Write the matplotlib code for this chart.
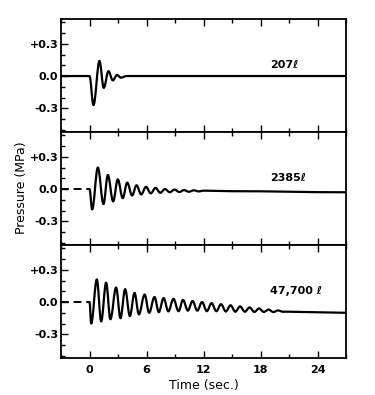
import matplotlib
matplotlib.use("Agg")
import matplotlib.pyplot as plt
from matplotlib.ticker import MultipleLocator
from matplotlib.path import Path
from matplotlib.patches import PathPatch

# peaks / troughs (time in s, pressure in MPa)
t_207 = [-3, 0.0, 0.42, 1.05, 1.5, 2.0, 2.45, 2.9, 3.3, 3.9, 27]
p_207 = [0.0, 0.0, -0.27, 0.14, -0.11, 0.045, -0.04, 0.01, -0.015, 0.0, 0.0]

t_2385 = [0.0, 0.28, 0.88, 1.47, 1.93, 2.49, 2.98, 3.5, 3.97, 4.49, 4.95, 5.44,
          5.95, 6.45, 6.95, 7.45, 7.95, 8.45, 8.95, 9.45, 9.95, 10.45, 11.0,
          11.5, 12.0, 15.0, 27.0]
p_2385 = [0.0, -0.19, 0.20, -0.14, 0.13, -0.115, 0.09, -0.085, 0.06, -0.06, 0.035,
          -0.05, 0.02, -0.04, 0.01, -0.035, 0.0, -0.03, -0.005, -0.028, -0.01,
          -0.025, -0.012, -0.022, -0.015, -0.02, -0.03]

t_47700 = [0.0, 0.18, 0.77, 1.23, 1.75, 2.2, 2.8, 3.26, 3.75, 4.25, 4.74, 5.2,
           5.8, 6.28, 6.84, 7.3, 7.8, 8.3, 8.84, 9.37, 9.85, 10.35, 10.85, 11.35,
           11.85, 12.35, 12.85, 13.35, 13.85, 14.35, 14.85, 15.35, 15.85, 16.35,
           16.85, 17.35, 17.85, 18.35, 18.85, 19.35, 19.85, 20.35, 21.0, 24.0, 27.0]
p_47700 = [0.0, -0.20, 0.21, -0.18, 0.18, -0.16, 0.135, -0.15, 0.12, -0.13, 0.085,
           -0.115, 0.07, -0.10, 0.047, -0.094, 0.037, -0.087, 0.03, -0.085, 0.02,
           -0.08, 0.01, -0.08, 0.0, -0.085, -0.01, -0.085, -0.02, -0.088, -0.03,
           -0.09, -0.04, -0.09, -0.05, -0.092, -0.06, -0.092, -0.07, -0.093,
           -0.078, -0.09, -0.09, -0.095, -0.10]

lead_t = [-3, 0]
lead_p = [0.0, 0.0]

labels = ["207ℓ", "2385ℓ", "47,700 ℓ"]
ytick_vals = [-0.3, 0.0, 0.3]
ytick_txt = ["-0.3", "0.0", "+0.3"]
xtick_vals = [0, 6, 12, 18, 24]


def wave_path(tt, pp):
    # cubic bezier between extrema, flat tangent at each extremum
    verts = [(tt[0], pp[0])]
    codes = [Path.MOVETO]
    for k in range(1, len(tt)):
        dt = tt[k] - tt[k-1]
        verts += [(tt[k-1] + dt*0.36, pp[k-1]), (tt[k] - dt*0.36, pp[k]), (tt[k], pp[k])]
        codes += [Path.CURVE4]*3
    return Path(verts, codes)


fig = plt.figure(figsize=(3.75, 3.95), dpi=100)
fig.patch.set_facecolor("white")
left, right, top, bottom = 61/375, 346/375, 1 - 19/395, 1 - 358/395
h = (top - bottom) / 3

series = [(t_207, p_207, False), (t_2385, p_2385, True), (t_47700, p_47700, True)]
axes = []
for i, (tt, pp, dashed) in enumerate(series):
    ax = fig.add_axes([left, top - (i + 1)*h, right - left, h])
    axes.append(ax)
    ax.add_patch(PathPatch(wave_path(tt, pp), fill=False, edgecolor="black",
                           lw=1.6, joinstyle="round", capstyle="round"))
    if dashed:
        ax.plot(lead_t, lead_p, color="black", lw=1.4, dashes=(4, 2.5))
    ax.set_xlim(-3, 27)
    ax.set_ylim(-0.52, 0.53)
    ax.set_yticks(ytick_vals)
    ax.set_yticklabels(ytick_txt, fontsize=8, fontweight="bold")
    ax.yaxis.set_minor_locator(MultipleLocator(0.1))
    ax.set_xticks(xtick_vals)
    ax.xaxis.set_minor_locator(MultipleLocator(3))
    ax.tick_params(which="both", direction="in", top=True, bottom=True,
                   left=True, right=False, width=1.0, pad=2)
    ax.tick_params(axis="x", pad=5)
    ax.tick_params(which="major", length=5)
    ax.tick_params(which="minor", length=3)
    if i < 2:
        ax.tick_params(labelbottom=False)
    else:
        ax.set_xticklabels([str(v) for v in xtick_vals], fontsize=8, fontweight="bold")
    for s in ax.spines.values():
        s.set_linewidth(1.3)
    ax.text(19.0, 0.1, labels[i], fontsize=8, fontweight="bold", va="center", ha="left")

axes[2].set_xlabel("Time (sec.)", fontsize=9, labelpad=3)
fig.text(21.7/375, 1 - 188/395, "Pressure (MPa)", rotation=90, fontsize=9,
         ha="center", va="center")

fig.savefig("out.png", dpi=100)
